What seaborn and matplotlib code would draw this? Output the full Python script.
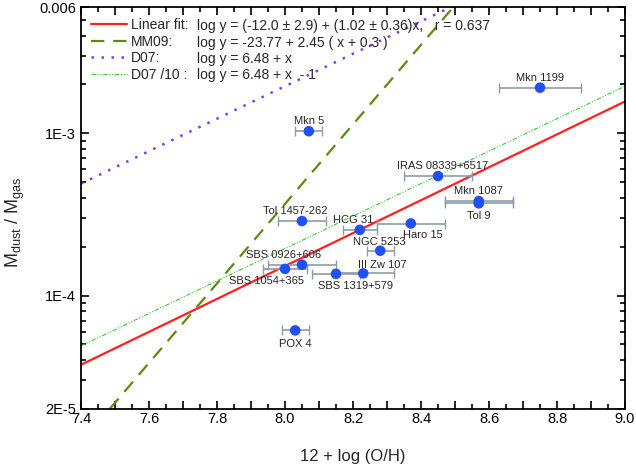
import matplotlib
matplotlib.use("Agg")
import matplotlib.pyplot as plt
from matplotlib.ticker import FixedLocator, FuncFormatter, MultipleLocator
import seaborn as sns
import pandas as pd
import numpy as np

# galaxies: 12+log(O/H), error, Mdust/Mgas
names = ['Mkn 1199', 'Mkn 5', 'IRAS 08339+6517', 'Mkn 1087', 'Tol 9',
         'Tol 1457-262', 'HCG 31', 'Haro 15', 'NGC 5253', 'SBS 0926+606',
         'SBS 1054+365', 'SBS 1319+579', 'III Zw 107', 'POX 4']
oh = [8.75, 8.07, 8.45, 8.57, 8.57, 8.05, 8.22, 8.37, 8.28, 8.05,
      8.00, 8.15, 8.23, 8.03]
oh_err = [0.12, 0.04, 0.10, 0.10, 0.10, 0.07, 0.05, 0.10, 0.04, 0.10,
          0.066, 0.07, 0.09, 0.04]
ratio = [1.91e-3, 1.03e-3, 5.45e-4, 3.82e-4, 3.70e-4, 2.88e-4, 2.54e-4,
         2.78e-4, 1.89e-4, 1.55e-4, 1.46e-4, 1.36e-4, 1.37e-4, 6.1e-5]
# label offsets (points)
lab_dx = [0, 0, 3, 0, 0, -5, -5, 9, -1, -13, -13, 14, 14, 0]
lab_dy = [7, 7, 7, 7, -9, 7, 7, -8, 6, 7, -9, -9, 6, -10]

# model lines: log y = a + b*x
fit_a, fit_b = -11.93, 1.014
mm09_a, mm09_b, mm09_shift = -23.77, 2.45, 0.3
d07_a = -10.71
d07_10_a = -11.71

legend_names = ['Linear fit:', 'MM09:', 'D07:', 'D07 /10 :']
formulas = ['log y = (-12.0 \u00b1 2.9) + (1.02 \u00b1 0.36)x,   r = 0.637',
            'log y = -23.77 + 2.45 ( x + 0.3 )',
            'log y = 6.48 + x',
            'log y = 6.48 + x  - 1']

sns.set_style('ticks')
plt.rcParams['font.family'] = ['Liberation Sans', 'DejaVu Sans']
plt.rcParams['mathtext.fontset'] = 'custom'
plt.rcParams['mathtext.rm'] = 'Liberation Sans'
plt.rcParams['mathtext.it'] = 'Liberation Sans'

fig = plt.figure(figsize=(6.36, 4.67), dpi=100)
ax = fig.add_axes([0.1274, 0.1242, 0.8553, 0.8608])

xs = np.linspace(7.4, 9.0, 50)
lines = pd.DataFrame({
    'x': xs,
    'fit': 10 ** (fit_a + fit_b * xs),
    'mm09': 10 ** (mm09_a + mm09_b * (xs + mm09_shift)),
    'd07': 10 ** (d07_a + xs),
    'd07_10': 10 ** (d07_10_a + xs),
})

sns.lineplot(x='x', y='fit', data=lines, ax=ax, color='#ff2020', lw=1.6,
             label=legend_names[0])
sns.lineplot(x='x', y='mm09', data=lines, ax=ax, color='#5e8a10', lw=1.6,
             ls=(0, (6, 4)), label=legend_names[1])
sns.lineplot(x='x', y='d07', data=lines, ax=ax, color='#7a3cff', lw=1.8,
             ls=(0, (1, 3)), label=legend_names[2])
sns.lineplot(x='x', y='d07_10', data=lines, ax=ax, color='#33cc33', lw=0.8,
             ls=(0, (4, 1.5, 1, 1.5, 1, 1.5)), label=legend_names[3])

gal = pd.DataFrame({'name': names, 'oh': oh, 'err': oh_err, 'ratio': ratio})
ax.errorbar(gal['oh'], gal['ratio'], xerr=gal['err'], fmt='none',
            ecolor='#8d9ba8', elinewidth=1.2, capsize=3.5, capthick=1.0,
            zorder=3)
sns.scatterplot(x='oh', y='ratio', data=gal, ax=ax, color='#2150f5', s=58,
                edgecolor='none', zorder=4)

for n, x, y, dx, dy in zip(names, oh, ratio, lab_dx, lab_dy):
    ax.annotate(n, (x, y), xytext=(dx, dy), textcoords='offset points',
                ha='center', va='center', fontsize=8)

ax.set_yscale('log')
ax.set_xlim(7.4, 9.0)
ax.set_ylim(2e-5, 0.006)

ax.xaxis.set_major_locator(MultipleLocator(0.1))
ax.xaxis.set_minor_locator(MultipleLocator(0.05))
ax.xaxis.set_major_formatter(FuncFormatter(
    lambda v, p: '%.1f' % v if round(v * 10) % 2 == 0 else ''))
ax.yaxis.set_major_locator(FixedLocator([2e-5, 1e-4, 1e-3, 6e-3]))
ax.yaxis.set_major_formatter(FuncFormatter(
    lambda v, p: {2e-5: '2E-5', 1e-4: '1E-4', 1e-3: '1E-3'}.get(v, '0.006')))
minor_y = [k * 10.0 ** e for e in (-5, -4, -3) for k in range(2, 10)]
ax.yaxis.set_minor_locator(FixedLocator(minor_y))

ax.tick_params(which='both', direction='in', top=True, right=True,
               width=1.2, labelsize=10.5, colors='black')
ax.tick_params(which='major', length=6)
ax.tick_params(which='minor', length=3.5)
ax.tick_params(axis='x', pad=2.5)
for s in ax.spines.values():
    s.set_visible(True)
    s.set_linewidth(1.3)
    s.set_color('black')

ax.set_xlabel('12 + log (O/H)', fontsize=12)
ax.xaxis.set_label_coords(0.5, -0.1)
ax.set_ylabel('M$_{\\rm dust}$ / M$_{\\rm gas}$', fontsize=13)
ax.yaxis.set_label_coords(-0.099, 0.465)

leg = ax.legend(loc='upper left', bbox_to_anchor=(0.018, 0.972),
                frameon=False, fontsize=10, handlelength=2.6,
                handletextpad=0.3, labelspacing=0.18, borderpad=0,
                borderaxespad=0)
row_y = [0.952, 0.911, 0.871, 0.830]
for t, yy in zip(formulas, row_y):
    ax.text(0.213, yy, t, transform=ax.transAxes, fontsize=10,
            va='center', ha='left')

fig.savefig('out.png', dpi=100)
